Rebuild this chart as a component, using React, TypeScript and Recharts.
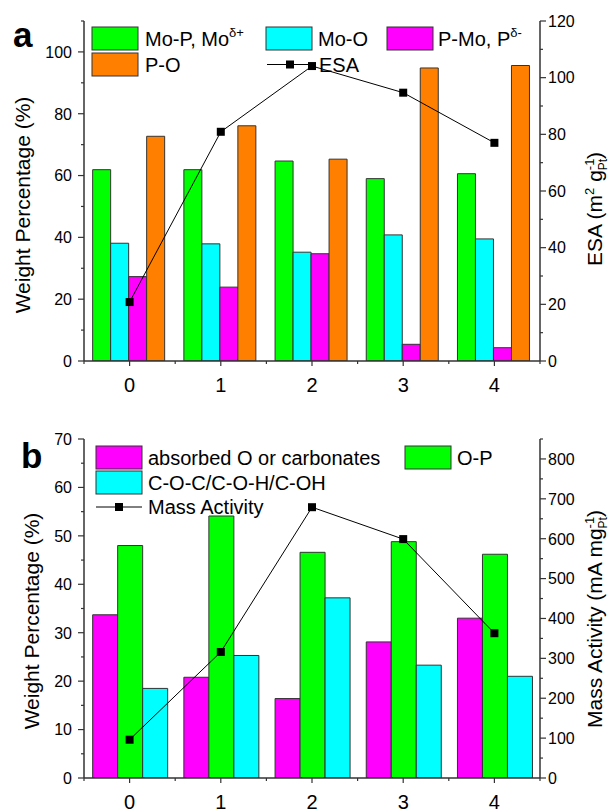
import React from 'react';
import { ComposedChart, Bar, Line, XAxis, YAxis } from 'recharts';

const FONT = '"Liberation Sans", Arial, sans-serif';
const AXIS = '#333';
const EDGE = '#333';
const GREEN = '#00ff00';
const CYAN = '#00ffff';
const MAGENTA = '#ff00ff';
const ORANGE = '#ff8000';

const categories = ['0', '1', '2', '3', '4'];

// panel a (weight %, ESA in m2/g)
const moP = [61.9, 61.9, 64.7, 59.0, 60.6];
const moO = [38.1, 37.9, 35.2, 40.8, 39.5];
const pMo = [27.3, 23.9, 34.7, 5.4, 4.3];
const pO = [72.7, 76.1, 65.3, 94.8, 95.6];
const esa = [20.8, 80.9, 104.1, 94.7, 77.0];

// panel b (weight %, mass activity in mA/mg)
const absorbedO = [33.7, 20.8, 16.4, 28.1, 33.0];
const oP = [48.0, 54.1, 46.6, 48.8, 46.2];
const cOc = [18.5, 25.3, 37.2, 23.3, 21.0];
const massActivity = [96, 316, 679, 599, 363];

const leftTicksA = [0, 10, 20, 30, 40, 50, 60, 70, 80, 90, 100, 110];
const leftMajorA = [0, 20, 40, 60, 80, 100];
const rightTicksA = [0, 10, 20, 30, 40, 50, 60, 70, 80, 90, 100, 110, 120];
const rightMajorA = [0, 20, 40, 60, 80, 100, 120];
const leftTicksB = [0, 5, 10, 15, 20, 25, 30, 35, 40, 45, 50, 55, 60, 65, 70];
const leftMajorB = [0, 10, 20, 30, 40, 50, 60, 70];
const rightTicksB = [0, 50, 100, 150, 200, 250, 300, 350, 400, 450, 500, 550, 600, 650, 700, 750, 800, 850];
const rightMajorB = [0, 100, 200, 300, 400, 500, 600, 700, 800];

const dataA = categories.map((cat, i) => ({ cat, moP: moP[i], moO: moO[i], pMo: pMo[i], pO: pO[i], esa: esa[i] }));
const dataB = categories.map((cat, i) => ({ cat, absorbedO: absorbedO[i], oP: oP[i], cOc: cOc[i], ma: massActivity[i] }));

const LEFT_W = 84;
const RIGHT_W = 74;
const BAND = (614 - LEFT_W - RIGHT_W) / categories.length;

const yTick = (side: 'left' | 'right', majors: number[]) => (props: any) => {
  const { x, y, payload } = props;
  const major = majors.includes(payload.value);
  const dir = side === 'left' ? -1 : 1;
  const len = major ? 6 : 3;
  return (
    <g>
      <line x1={x} x2={x + dir * len} y1={y} y2={y} stroke={AXIS} strokeWidth={1.2} />
      {major && (
        <text
          x={side === 'left' ? x - 12 : x + 8}
          y={y}
          dy={5.8}
          textAnchor={side === 'left' ? 'end' : 'start'}
          fontSize={16}
          fontFamily={FONT}
          fill="#000"
        >
          {payload.value}
        </text>
      )}
    </g>
  );
};

const xTick = (props: any) => {
  const { x, y, payload, index } = props;
  const last = index === categories.length - 1;
  return (
    <g>
      <line x1={x} x2={x} y1={y} y2={y + 5} stroke={AXIS} strokeWidth={1.2} />
      <line x1={x - BAND / 2} x2={x - BAND / 2} y1={y} y2={y + 3} stroke={AXIS} strokeWidth={1.2} />
      {last && <line x1={x + BAND / 2} x2={x + BAND / 2} y1={y} y2={y + 3} stroke={AXIS} strokeWidth={1.2} />}
      <text x={x} y={y + 31} textAnchor="middle" fontSize={20} fontFamily={FONT} fill="#000">
        {payload.value}
      </text>
    </g>
  );
};

const topTick = (props: any) => {
  const { x, y, index } = props;
  const last = index === categories.length - 1;
  return (
    <g>
      <line x1={x} x2={x} y1={y} y2={y + 3} stroke={AXIS} strokeWidth={1} />
      <line x1={x - BAND / 2} x2={x - BAND / 2} y1={y} y2={y + 2} stroke={AXIS} strokeWidth={1} />
      {last && <line x1={x + BAND / 2} x2={x + BAND / 2} y1={y} y2={y + 2} stroke={AXIS} strokeWidth={1} />}
    </g>
  );
};

const SquareDot = (props: any) => {
  const { cx, cy, index } = props;
  if (cx == null || cy == null) return <g key={`e-${index}`} />;
  return <rect key={`sq-${index}`} x={cx - 4} y={cy - 4} width={8} height={8} fill="#000" />;
};

const axisLine = { stroke: AXIS, strokeWidth: 1.5 };

function Frame({ data, height, top, xHeight, leftTicks, leftMajor, leftMax, rightTicks, rightMajor, rightMax, lineKey, children }: any) {
  return (
    <ComposedChart
      width={614}
      height={height}
      data={data}
      margin={{ top, right: 0, bottom: 0, left: 0 }}
      barCategoryGap="9.5%"
      barGap={0}
    >
      <XAxis dataKey="cat" height={xHeight} tickSize={0} tickMargin={0} tickLine={false} tick={xTick} axisLine={axisLine} interval={0} />
      <XAxis xAxisId="top" orientation="top" dataKey="cat" height={0} tickSize={0} tickMargin={0} tickLine={false} tick={topTick} axisLine={axisLine} interval={0} />
      <YAxis yAxisId="left" width={LEFT_W} domain={[0, leftMax]} ticks={leftTicks} interval={0} tickSize={0} tickMargin={0} tickLine={false} tick={yTick('left', leftMajor)} axisLine={axisLine} allowDataOverflow />
      <YAxis yAxisId="right" orientation="right" width={RIGHT_W} domain={[0, rightMax]} ticks={rightTicks} interval={0} tickSize={0} tickMargin={0} tickLine={false} tick={yTick('right', rightMajor)} axisLine={axisLine} allowDataOverflow />
      {children}
      <Line yAxisId="right" type="linear" dataKey={lineKey} stroke="#000" strokeWidth={1} dot={SquareDot} activeDot={false} isAnimationActive={false} />
    </ComposedChart>
  );
}

const LegendRect = ({ x, y, fill }: any) => (
  <rect x={x} y={y} width={46} height={23} fill={fill} stroke={EDGE} strokeWidth={1} />
);
const LegendLine = ({ x, y }: any) => (
  <g>
    <line x1={x} x2={x + 46} y1={y} y2={y} stroke="#000" strokeWidth={1} />
    <rect x={x + 19} y={y - 4} width={8} height={8} fill="#000" />
  </g>
);

export default function App() {
  const t = { fontFamily: FONT, fill: '#000' };
  return (
    <div style={{ position: 'absolute', left: 0, top: 0, width: 614, height: 812, background: '#fff' }}>
      <div style={{ position: 'absolute', left: 0, top: 0 }}>
        <Frame
          data={dataA}
          height={400}
          top={21}
          xHeight={39}
          leftTicks={leftTicksA}
          leftMajor={leftMajorA}
          leftMax={110}
          rightTicks={rightTicksA}
          rightMajor={rightMajorA}
          rightMax={120}
          lineKey="esa"
        >
          <Bar yAxisId="left" dataKey="moP" fill={GREEN} stroke={EDGE} strokeWidth={1} isAnimationActive={false} />
          <Bar yAxisId="left" dataKey="moO" fill={CYAN} stroke={EDGE} strokeWidth={1} isAnimationActive={false} />
          <Bar yAxisId="left" dataKey="pMo" fill={MAGENTA} stroke={EDGE} strokeWidth={1} isAnimationActive={false} />
          <Bar yAxisId="left" dataKey="pO" fill={ORANGE} stroke={EDGE} strokeWidth={1} isAnimationActive={false} />
        </Frame>
      </div>
      <div style={{ position: 'absolute', left: 0, top: 400 }}>
        <Frame
          data={dataB}
          height={412}
          top={39}
          xHeight={34}
          leftTicks={leftTicksB}
          leftMajor={leftMajorB}
          leftMax={70}
          rightTicks={rightTicksB}
          rightMajor={rightMajorB}
          rightMax={850}
          lineKey="ma"
        >
          <Bar yAxisId="left" dataKey="absorbedO" fill={MAGENTA} stroke={EDGE} strokeWidth={1} isAnimationActive={false} />
          <Bar yAxisId="left" dataKey="oP" fill={GREEN} stroke={EDGE} strokeWidth={1} isAnimationActive={false} />
          <Bar yAxisId="left" dataKey="cOc" fill={CYAN} stroke={EDGE} strokeWidth={1} isAnimationActive={false} />
        </Frame>
      </div>
      <svg width={614} height={812} style={{ position: 'absolute', left: 0, top: 0, pointerEvents: 'none' }}>
        <text x={13} y={47} fontSize={35} fontWeight="bold" {...t}>a</text>
        <text x={21} y={468} fontSize={35} fontWeight="bold" {...t}>b</text>

        <text transform="translate(30,205) rotate(-90)" textAnchor="middle" fontSize={21} {...t}>Weight Percentage (%)</text>
        <text transform="translate(39,621) rotate(-90)" textAnchor="middle" fontSize={21} {...t}>Weight Percentage (%)</text>
        <text transform="translate(602,209) rotate(-90)" textAnchor="middle" fontSize={21} {...t}>
          ESA (m<tspan dy={-8} fontSize={13}>2</tspan>
          <tspan dy={8}> g</tspan>
          <tspan dy={-8} fontSize={13}>-1</tspan>
          <tspan dx={-11.6} dy={13} fontSize={12}>Pt</tspan>
          <tspan dy={-5}>)</tspan>
        </text>
        <text transform="translate(602,619) rotate(-90)" textAnchor="middle" fontSize={21} {...t}>
          Mass Activity (mA mg<tspan dy={-8} fontSize={13}>-1</tspan>
          <tspan dx={-11.6} dy={13} fontSize={12}>Pt</tspan>
          <tspan dy={-5}>)</tspan>
        </text>

        {/* legend a */}
        <LegendRect x={92} y={27} fill={GREEN} />
        <text x={145} y={45.7} fontSize={20} {...t}>Mo-P, Mo<tspan dy={-9} fontSize={13}>δ+</tspan></text>
        <LegendRect x={266} y={27} fill={CYAN} />
        <text x={318} y={45.7} fontSize={20} {...t}>Mo-O</text>
        <LegendRect x={387} y={27} fill={MAGENTA} />
        <text x={438} y={45.7} fontSize={20} {...t}>P-Mo, P<tspan dy={-9} fontSize={13}>δ-</tspan></text>
        <LegendRect x={92} y={53} fill={ORANGE} />
        <text x={145} y={71.7} fontSize={20} {...t}>P-O</text>
        <LegendLine x={267} y={64.5} />
        <text x={319} y={71.7} fontSize={20} {...t}>ESA</text>

        {/* legend b */}
        <LegendRect x={96} y={446} fill={MAGENTA} />
        <text x={148} y={464.7} fontSize={20} {...t}>absorbed O or carbonates</text>
        <LegendRect x={405} y={446} fill={GREEN} />
        <text x={457} y={464.7} fontSize={20} {...t}>O-P</text>
        <LegendRect x={96} y={471} fill={CYAN} />
        <text x={148} y={489.7} fontSize={20} {...t}>C-O-C/C-O-H/C-OH</text>
        <LegendLine x={96} y={507} />
        <text x={148} y={514.2} fontSize={20} {...t}>Mass Activity</text>
      </svg>
    </div>
  );
}
